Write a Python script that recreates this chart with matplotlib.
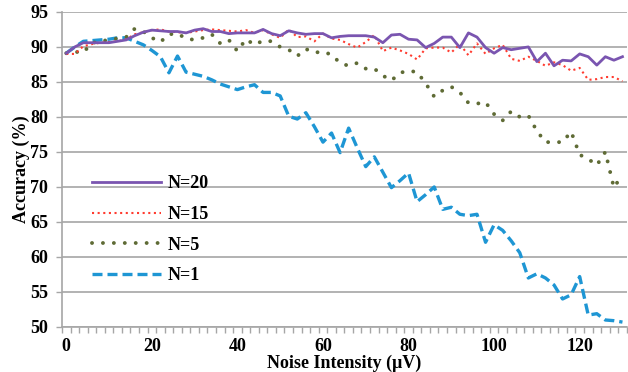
import numpy as np
import matplotlib
matplotlib.use("Agg")
import matplotlib.pyplot as plt

noise = list(range(0, 131, 2))

acc_n20 = [89.1, 90.0, 90.6, 90.6, 90.6, 90.6, 90.8, 91.0, 91.6, 92.1,
           92.4, 92.3, 92.2, 92.2, 92.0, 92.4, 92.6, 92.2, 92.2, 91.9,
           92.0, 92.0, 92.0, 92.5, 91.9, 91.6, 92.3, 92.0, 91.8, 91.9,
           91.9, 91.3, 91.5, 91.6, 91.6, 91.6, 91.4, 90.6, 91.7, 91.8,
           91.1, 91.0, 89.9, 90.5, 91.4, 91.4, 89.9, 92.0, 91.4, 89.9,
           89.1, 89.9, 89.6, 89.8, 90.0, 87.9, 89.1, 87.3, 88.1, 88.0,
           89.0, 88.6, 87.4, 88.6, 88.1, 88.6]

acc_n15 = [89.0, 89.0, 90.1, 90.4, 90.6, 90.7, 90.8, 91.1, 91.8, 92.1,
           92.4, 92.5, 92.2, 92.1, 92.0, 92.2, 92.4, 92.5, 92.4, 92.3,
           92.2, 92.4, 92.0, 92.4, 91.8, 91.3, 92.5, 91.4, 91.5, 90.8,
           91.9, 91.2, 91.0, 90.4, 89.9, 90.7, 91.7, 89.4, 89.9, 89.5,
           89.0, 88.2, 89.8, 89.9, 89.9, 89.2, 90.4, 88.8, 90.5, 89.0,
           89.8, 90.3, 88.3, 88.0, 88.6, 88.0, 87.3, 87.8, 87.4, 86.6,
           87.0, 85.3, 85.4, 85.7, 85.7, 85.1]

acc_n5 = [89.1, 89.3, 89.2, 90.6, 90.7, 91.1, 91.2, 91.4, 92.6, 92.2,
          91.3, 90.7, 91.8, 91.9, 91.2, 91.0, 91.3, 91.8, 90.5, 91.0,
          89.4, 91.1, 90.3, 90.9, 90.8, 90.0, 89.6, 88.7, 89.7, 89.2,
          89.3, 88.9, 87.7, 87.3, 87.7, 86.9, 86.9, 85.9, 85.2, 86.3,
          86.6, 86.4, 84.8, 82.9, 83.8, 84.3, 83.5, 82.0, 81.9, 82.1,
          80.4, 79.5, 80.8, 80.0, 80.2, 78.0, 76.4, 76.4, 76.4, 77.9,
          74.6, 74.0, 73.1, 75.0, 69.9, 71.8]

acc_n1 = [89.1, 90.0, 90.8, 90.9, 91.0, 91.1, 91.3, 91.3, 90.8, 90.3,
          89.5, 88.6, 86.3, 88.7, 86.4, 86.1, 85.8, 85.3, 84.7, 84.3,
          83.9, 84.3, 84.6, 83.5, 83.5, 83.0, 80.1, 79.7, 80.6, 78.6,
          76.4, 77.7, 74.9, 78.4, 75.6, 72.9, 74.3, 72.1, 69.9, 70.9,
          72.0, 67.9, 68.9, 70.0, 66.8, 67.1, 66.1, 65.9, 66.1, 62.1,
          64.6, 63.8, 62.3, 60.6, 57.0, 57.6, 57.0, 56.0, 54.0, 54.6,
          57.2, 51.7, 51.9, 51.0, 50.9, 50.7]

labels = ["N=20", "N=15", "N=5", "N=1"]
x_ticks = [0, 20, 40, 60, 80, 100, 120]
y_ticks = [50, 55, 60, 65, 70, 75, 80, 85, 90, 95]

plt.rcParams['font.family'] = ['Liberation Serif', 'DejaVu Serif']
plt.rcParams['font.weight'] = 'bold'

fig = plt.figure(figsize=(6.28, 3.72), dpi=100)
ax = fig.add_axes([0.0987, 0.121, 0.8993, 0.847])

grid_c = '#A6A6A6'
ax.set_axisbelow(True)
ax.yaxis.grid(True, color=grid_c, linewidth=1.2)
ax.xaxis.grid(False)

l1, = ax.plot(noise, acc_n1, color='#1E96D4', linewidth=2.4,
              linestyle=(0, (3.0, 1.5)), dash_capstyle='butt')
l5, = ax.plot(noise, acc_n5, color='#5F6B35', linewidth=2.8,
              linestyle=(0, (0.01, 2.8)), dash_capstyle='round')
l15, = ax.plot(noise, acc_n15, color='#FF3B2F', linewidth=1.5,
               linestyle=(0, (1, 1.7)), dash_capstyle='butt')
l20, = ax.plot(noise, acc_n20, color='#7A55B0', linewidth=2.0)

ax.set_xlim(-1, 131)
ax.set_ylim(50, 95)
ax.set_xticks(x_ticks)
ax.set_xticks(np.arange(-1, 132, 2), minor=True)
ax.set_yticks(y_ticks)
ax.tick_params(axis='x', which='major', length=0, pad=8, labelsize=13)
ax.tick_params(axis='x', which='minor', length=4, width=1, color=grid_c)
ax.tick_params(axis='y', which='major', length=4, width=1, color=grid_c,
               pad=6, labelsize=13)

for s in ['top', 'right']:
    ax.spines[s].set_visible(False)
for s in ['left', 'bottom']:
    ax.spines[s].set_color(grid_c)
    ax.spines[s].set_linewidth(1.2)

ax.set_xlabel('Noise Intensity (μV)', fontsize=13, fontweight='bold', labelpad=0)
ax.set_ylabel('Accuracy (%)', fontsize=13, fontweight='bold', labelpad=0)

ax.legend([l20, l15, l5, l1], labels, loc='upper left',
          bbox_to_anchor=(0.053, 0.481), frameon=False, fontsize=13,
          handlelength=3.8, handletextpad=0.4, labelspacing=0.75,
          borderpad=0, borderaxespad=0)

fig.savefig('out.png', dpi=100)
